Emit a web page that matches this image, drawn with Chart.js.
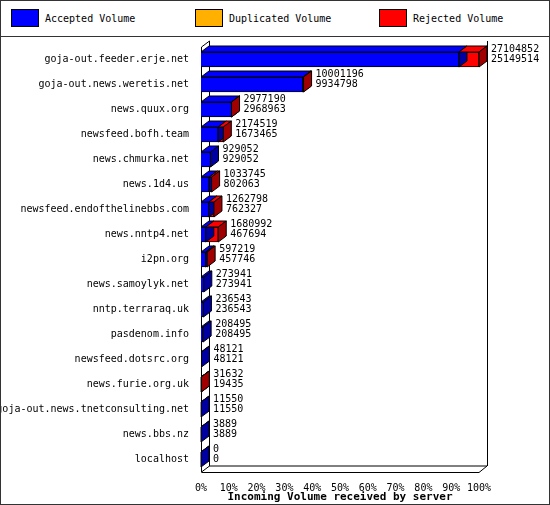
<!DOCTYPE html>
<html><head><meta charset="utf-8">
<script src="https://cdn.jsdelivr.net/npm/chart.js@4"></script>
<style>
body{margin:0;background:#fff;font-family:"DejaVu Sans Mono",monospace;font-size:10px}
#wrap{position:relative;width:548px;height:503px;border:1px solid #333}
#legend{height:35px;border-bottom:1px solid #333;position:relative}
.lg{position:absolute;top:10px;height:16px;line-height:16px}
.sw{position:absolute;top:8px;width:26px;height:16px;border:1px solid #000}
#box{position:absolute;top:36px;left:0;width:548px;height:467px}
</style></head><body>
<div id="wrap">
<div id="legend">
 <div class="sw" style="left:10px;background:#0000ff"></div><div class="lg" style="left:44px">Accepted Volume</div>
 <div class="sw" style="left:194px;background:#ffb000"></div><div class="lg" style="left:228px">Duplicated Volume</div>
 <div class="sw" style="left:378px;background:#ff0000"></div><div class="lg" style="left:412px">Rejected Volume</div>
</div>
<div id="box"><canvas id="c" width="548" height="467"></canvas></div>
</div>
<script>
const servers = ['goja-out.feeder.erje.net','goja-out.news.weretis.net','news.quux.org','newsfeed.bofh.team',
  'news.chmurka.net','news.1d4.us','newsfeed.endofthelinebbs.com','news.nntp4.net','i2pn.org',
  'news.samoylyk.net','nntp.terraraq.uk','pasdenom.info','newsfeed.dotsrc.org','news.furie.org.uk',
  'goja-out.news.tnetconsulting.net','news.bbs.nz','localhost'];
const totalVolume = [27104852,10001196,2977190,2174519,929052,1033745,1262798,1680992,597219,273941,236543,208495,48121,31632,11550,3889,0];
const acceptedVolume = [25149514,9934798,2968963,1673465,929052,802063,762327,467694,457746,273941,236543,208495,48121,19435,11550,3889,0];
const xTicks = [0,10,20,30,40,50,60,70,80,90,100];

const maxVol = Math.max(...totalVolume);
const accPct = acceptedVolume.map(v => v / maxVol * 100);
const dupPct = servers.map(() => 0);
const rejPct = totalVolume.map((t, i) => (t - acceptedVolume[i]) / maxVol * 100);

const DX = 8, DY = -6;
const shade = { '#0000ff': ['#0000ff', '#0000a0'], '#ffb000': ['#ffc000', '#b07800'], '#ff0000': ['#ff0000', '#a00000'] };

const threeD = {
  id: 'threeD',
  beforeDatasetsDraw(chart) {
    const ctx = chart.ctx, a = chart.chartArea;
    ctx.save();
    ctx.strokeStyle = '#000'; ctx.lineWidth = 1;
    ctx.beginPath();
    ctx.moveTo(a.left + .5, a.bottom); ctx.lineTo(a.left + .5, a.top);
    ctx.lineTo(a.left + DX + .5, a.top + DY);
    ctx.moveTo(a.left + .5, a.bottom); ctx.lineTo(a.left + DX + .5, a.bottom + DY);
    ctx.lineTo(a.left + DX + .5, a.top + DY);
    ctx.moveTo(a.left + .5, a.bottom + .5); ctx.lineTo(a.right, a.bottom + .5);
    ctx.lineTo(a.right + DX, a.bottom + DY); ctx.lineTo(a.left + DX, a.bottom + DY);
    ctx.moveTo(a.right + DX + .5, a.bottom + DY); ctx.lineTo(a.right + DX + .5, a.top + DY);
    ctx.stroke();
    ctx.restore();
  },
  afterDatasetsDraw(chart) {
    const ctx = chart.ctx;
    ctx.save();
    ctx.strokeStyle = '#000'; ctx.lineWidth = 1;
    chart.data.datasets.forEach((ds, di) => {
      chart.getDatasetMeta(di).data.forEach(el => {
        const x0 = Math.min(el.base, el.x), x1 = Math.max(el.base, el.x);
        if (x1 - x0 < 0.01 && ds.label !== 'Accepted Volume') return;
        const t = el.y - el.height / 2, b = el.y + el.height / 2;
        const [front, dark] = shade[ds.backgroundColor];
        ctx.fillStyle = front;
        ctx.beginPath();
        ctx.moveTo(x0, t); ctx.lineTo(x0 + DX, t + DY); ctx.lineTo(x1 + DX, t + DY); ctx.lineTo(x1, t); ctx.closePath();
        ctx.fill(); ctx.stroke();
        ctx.fillStyle = dark;
        ctx.beginPath();
        ctx.moveTo(x1, t); ctx.lineTo(x1 + DX, t + DY); ctx.lineTo(x1 + DX, b + DY); ctx.lineTo(x1, b); ctx.closePath();
        ctx.fill(); ctx.stroke();
      });
    });
    const m = chart.getDatasetMeta(2).data;
    ctx.fillStyle = '#000';
    ctx.font = '10px "DejaVu Sans Mono", monospace';
    ctx.textBaseline = 'middle';
    m.forEach((el, i) => {
      const x = Math.max(el.base, el.x) + DX + 4;
      ctx.fillText(String(totalVolume[i]), x, el.y - 10);
      ctx.fillText(String(acceptedVolume[i]), x, el.y);
    });
    ctx.restore();
  }
};

new Chart(document.getElementById('c'), {
  type: 'bar',
  data: {
    labels: servers,
    datasets: [
      { label: 'Accepted Volume', data: accPct, backgroundColor: '#0000ff', borderColor: '#000', borderWidth: 1, barThickness: 15 },
      { label: 'Duplicated Volume', data: dupPct, backgroundColor: '#ffb000', borderColor: '#000', borderWidth: 0, barThickness: 15 },
      { label: 'Rejected Volume', data: rejPct, backgroundColor: '#ff0000', borderColor: '#000', borderWidth: 1, barThickness: 15 }
    ]
  },
  options: {
    indexAxis: 'y',
    responsive: false,
    animation: false,
    devicePixelRatio: 1,
    layout: { padding: { top: 10, right: 70, left: 0, bottom: 0 } },
    plugins: { legend: { display: false }, tooltip: { enabled: false } },
    scales: {
      x: {
        stacked: true, min: 0, max: 100,
        afterBuildTicks: s => { s.ticks = xTicks.map(v => ({ value: v })); },
        afterFit: s => { s.height = 32; },
        grid: { display: false },
        border: { display: false },
        ticks: { color: '#000', font: { family: 'DejaVu Sans Mono', size: 10 }, padding: 2, maxRotation: 0, autoSkip: false, callback: v => v + '%' },
        title: { display: true, text: 'Incoming Volume received by server', color: '#000', padding: 0,
                 font: { family: 'DejaVu Sans Mono', size: 11, weight: 'bold' } }
      },
      y: {
        stacked: true,
        afterFit: s => { s.width = 200; },
        grid: { display: false },
        border: { display: false },
        ticks: { color: '#000', font: { family: 'DejaVu Sans Mono', size: 10 }, padding: 4, autoSkip: false }
      }
    }
  },
  plugins: [threeD]
});
</script>
</body></html>
